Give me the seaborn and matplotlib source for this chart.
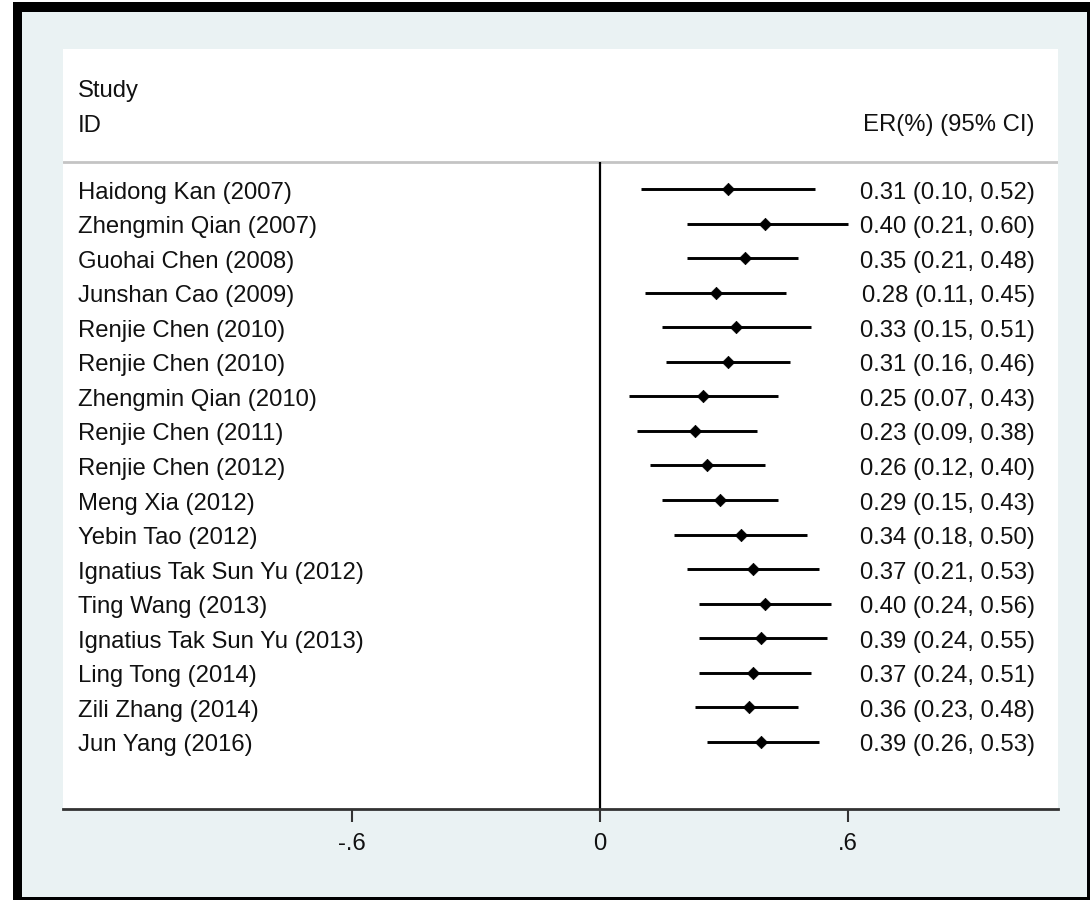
import matplotlib
matplotlib.use("Agg")
import matplotlib.pyplot as plt
from matplotlib.patches import Rectangle
import seaborn as sns
import pandas as pd

# Study estimates: excess risk (%) with 95% confidence intervals
studies = [
    "Haidong Kan (2007)", "Zhengmin Qian (2007)", "Guohai Chen (2008)",
    "Junshan Cao (2009)", "Renjie Chen (2010)", "Renjie Chen (2010)",
    "Zhengmin Qian (2010)", "Renjie Chen (2011)", "Renjie Chen (2012)",
    "Meng Xia (2012)", "Yebin Tao (2012)", "Ignatius Tak Sun Yu (2012)",
    "Ting Wang (2013)", "Ignatius Tak Sun Yu (2013)", "Ling Tong (2014)",
    "Zili Zhang (2014)", "Jun Yang (2016)",
]
er = [0.31, 0.40, 0.35, 0.28, 0.33, 0.31, 0.25, 0.23, 0.26, 0.29,
      0.34, 0.37, 0.40, 0.39, 0.37, 0.36, 0.39]
ci_low = [0.10, 0.21, 0.21, 0.11, 0.15, 0.16, 0.07, 0.09, 0.12, 0.15,
          0.18, 0.21, 0.24, 0.24, 0.24, 0.23, 0.26]
ci_high = [0.52, 0.60, 0.48, 0.45, 0.51, 0.46, 0.43, 0.38, 0.40, 0.43,
           0.50, 0.53, 0.56, 0.55, 0.51, 0.48, 0.53]
xticks = [-0.6, 0.0, 0.6]
xtick_labels = ["-.6", "0", ".6"]

df = pd.DataFrame({"study": studies, "er": er, "lo": ci_low, "hi": ci_high})
df["row"] = range(len(df))

sns.set_theme(style="white")
plt.rcParams["font.family"] = ["Liberation Sans", "DejaVu Sans"]

W, H = 1091, 903
fig = plt.figure(figsize=(W / 100, H / 100), dpi=100, facecolor="white")

def fx(px):
    return px / W

def fy(py):
    return 1 - py / H

bg = "#EAF2F3"
# graph region with its dark frame
fig.patches.append(Rectangle((fx(13), fy(900)), fx(1090) - fx(13), fy(3) - fy(900),
                             transform=fig.transFigure, facecolor=bg, edgecolor="none", zorder=-10))
for (x0, y0, x1, y1) in [(13, 3, 1090, 13), (13, 3, 22, 900), (1087, 3, 1090, 900), (13, 898, 1090, 901)]:
    fig.patches.append(Rectangle((fx(x0), fy(y1)), fx(x1) - fx(x0), fy(y0) - fy(y1),
                                 transform=fig.transFigure, facecolor="black", edgecolor="none", zorder=-9))

left_px, right_px, top_px, bot_px = 63, 1058, 50, 810
ax = fig.add_axes([fx(left_px), fy(bot_px), fx(right_px) - fx(left_px), fy(top_px) - fy(bot_px)])
ax.set_facecolor("white")

scale = 413.33  # pixels per unit on the x axis
zero_px = 600
row0_px, row_step = 190, 34.56
ax.set_xlim((left_px - zero_px) / scale, (right_px - zero_px) / scale)
ax.set_ylim((bot_px - row0_px) / row_step, (top_px - row0_px) / row_step)

def row_of(py):
    return (py - row0_px) / row_step

sep_row = row_of(163)

# confidence intervals
ax.hlines(df["row"], df["lo"], df["hi"], color="black", linewidth=2.1, zorder=3)
# point estimates
sns.scatterplot(data=df, x="er", y="row", marker="D", s=40, color="black",
                edgecolor="black", linewidth=0.5, ax=ax, zorder=4, legend=False)

# null line and header separator
ax.vlines(0, sep_row, row_of(bot_px), color="black", linewidth=1.6, zorder=2)
ax.axhline(sep_row, color="#C4C4C4", linewidth=2.0, zorder=1)

fs = 17.2
label_x = (78 - zero_px) / scale
value_x = (1035 - zero_px) / scale
va = "center_baseline"
ax.text(label_x, row_of(88), "Study", ha="left", va=va, fontsize=fs, color="#111111")
ax.text(label_x, row_of(123), "ID", ha="left", va=va, fontsize=fs, color="#111111")
ax.text(value_x, row_of(123), "ER(%) (95% CI)", ha="right", va=va, fontsize=fs, color="#111111")
for _, r in df.iterrows():
    ax.text(label_x, r["row"], r["study"], ha="left", va=va, fontsize=fs, color="#111111")
    ax.text(value_x, r["row"], f"{r['er']:.2f} ({r['lo']:.2f}, {r['hi']:.2f})",
            ha="right", va=va, fontsize=fs, color="#111111")

for side in ["top", "left", "right"]:
    ax.spines[side].set_visible(False)
ax.spines["bottom"].set_color("#333333")
ax.spines["bottom"].set_linewidth(2.0)
ax.set_yticks([])
ax.set_xticks(xticks)
ax.set_xticklabels(xtick_labels)
ax.tick_params(axis="x", bottom=True, direction="out", length=9.5, width=1.5,
               color="#333333", pad=7, labelsize=fs, labelcolor="#111111")
ax.set_xlabel("")
ax.set_ylabel("")

fig.savefig("out.png", dpi=100, facecolor=fig.get_facecolor())
